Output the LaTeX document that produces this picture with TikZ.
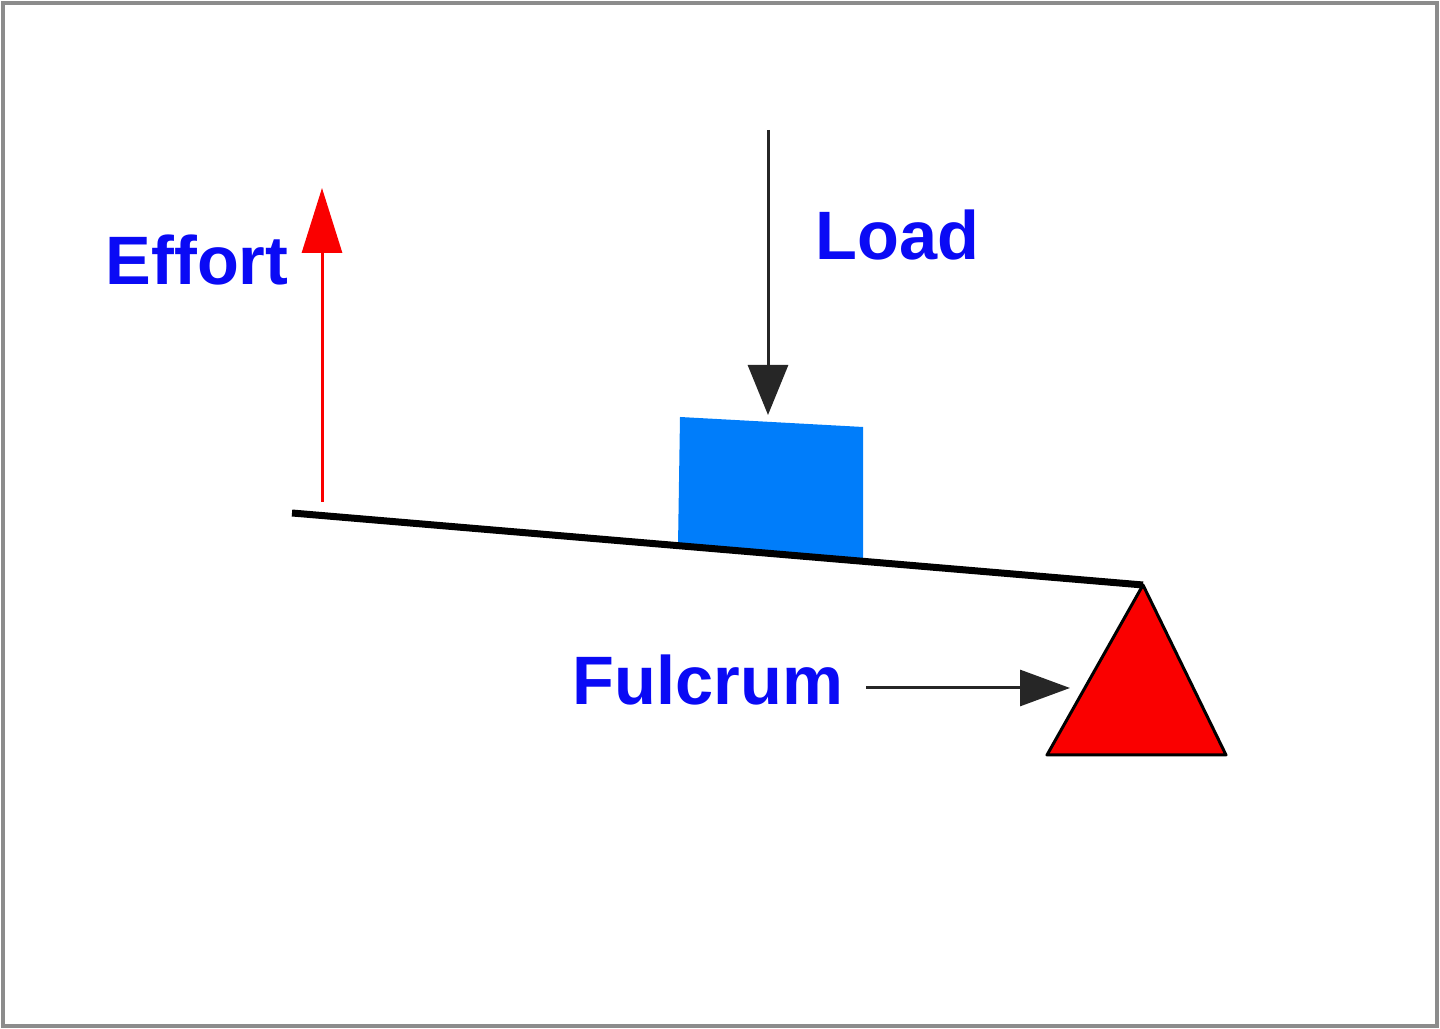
\documentclass[tikz,border=0pt]{standalone}
\usepackage{fontspec}
\setmainfont{Liberation Sans}
\usetikzlibrary{positioning,arrows.meta}
\definecolor{labelblue}{RGB}{10,10,245}
\definecolor{blockblue}{RGB}{0,125,250}
\definecolor{pivotred}{RGB}{250,0,0}
\colorlet{framegray}{black!45}
\tikzset{
  leverlabel/.style={anchor=base west,inner sep=0pt,text=labelblue,font=\fontsize{19.5}{22}\selectfont\bfseries},
  forcearrow/.style={line width=.3mm},
}

\begin{document}
\begin{tikzpicture}[x=1cm,y=-1cm]
    \useasboundingbox (0,0) rectangle (14.4,10.29);
    \draw[framegray,line width=.45mm] (.03,.03) rectangle (14.37,10.26);
    % lever, load and pivot
    \coordinate (beamL) at (2.92,5.13);
    \coordinate (beamR) at (11.43,5.85);
    \fill[blockblue] (6.80,4.17)--(8.63,4.27)--(8.63,5.61)--(6.78,5.46)--cycle;
    \filldraw[fill=pivotred,draw=black,line width=.3mm,line join=round]
      (beamR)--(12.26,7.55)--(10.47,7.55)--cycle;
    \draw[line width=.7mm] (beamL)--(beamR);
    % labels
    \node[leverlabel] (effort) at (1.05,2.85) {Effort};
    \node[leverlabel] (load) at (8.15,2.60) {Load};
    \node[leverlabel] (fulcrum) at (5.72,7.05) {Fulcrum};
    % arrows
    \coordinate (effortTail) at (3.22,5.02);
    \coordinate (effortTip) at (3.22,1.88);
    \coordinate (loadTail) at (7.68,1.30);
    \coordinate (loadTip) at (7.68,4.15);
    \coordinate (fulcTail) at (8.66,6.88);
    \coordinate (fulcTip) at (10.70,6.88);
    \draw[forcearrow,pivotred,-{Triangle[length=6.5mm,width=4mm]}] (effortTail)--(effortTip);
    \draw[forcearrow,black!85,-{Triangle[length=5mm,width=4mm]}] (loadTail)--(loadTip);
    \draw[forcearrow,black!85,-{Triangle[length=5mm,width=3.6mm]}] (fulcTail)--(fulcTip);
\end{tikzpicture}
\end{document}
